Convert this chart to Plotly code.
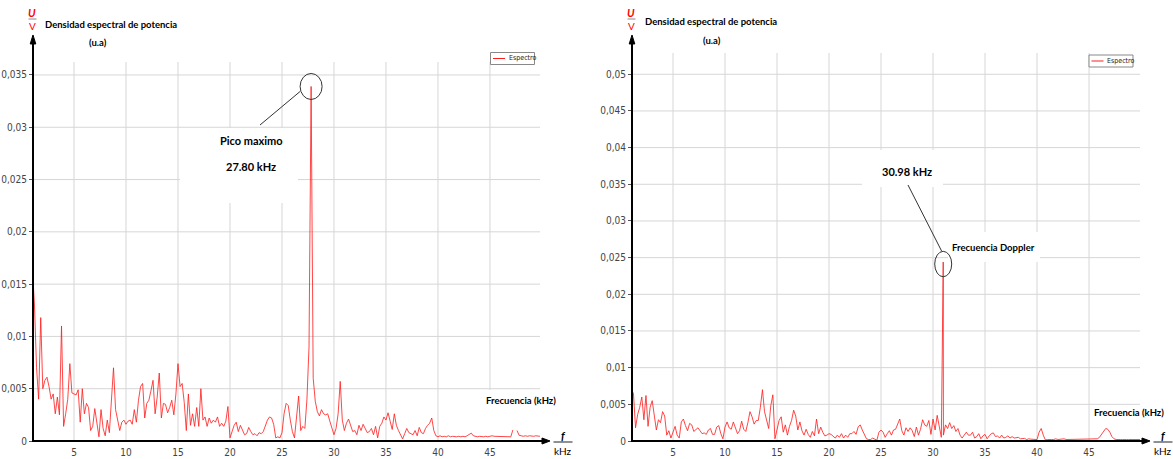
import plotly.graph_objects as go

W, H = 1173, 459

# Power spectral density samples (units of 1e-3 u.a.), one every 0.2 kHz from 1.0 kHz
F_START_KHZ = 1.0
F_STEP_KHZ = 0.2

psd_left = [
    16.5, 13.0, 7.0, 4.0, 11.8, 5.0, 5.8, 6.1, 5.2, 4.0,
    4.5, 2.6, 4.2, 2.5, 11.0, 1.4, 2.6, 4.0, 7.4, 4.6,
    4.5, 4.4, 4.9, 1.8, 5.0, 2.6, 3.6, 3.2, 1.0, 1.4,
    3.1, 1.5, 0.4, 3.0, 1.2, 0.5, 2.0, 0.8, 3.5, 7.0,
    3.0, 2.0, 1.0, 1.8, 2.0, 1.6, 1.9, 2.0, 1.6, 3.0,
    1.8, 3.9, 5.2, 5.5, 2.2, 3.6, 3.9, 4.8, 5.8, 2.6,
    4.2, 6.5, 2.2, 3.6, 3.5, 2.7, 3.2, 3.9, 2.5, 4.5,
    7.4, 5.2, 5.5, 3.7, 1.0, 4.5, 1.5, 2.6, 1.4, 3.2,
    1.4, 5.0, 2.0, 2.3, 1.4, 2.2, 1.7, 2.0, 1.8, 2.3,
    1.4, 1.7, 1.4, 1.9, 3.3, 0.3, 1.0, 1.5, 1.8, 0.9,
    1.5, 1.0, 0.6, 0.7, 1.3, 0.9, 0.6, 0.7, 0.5, 0.8,
    0.7, 0.9, 1.4, 2.0, 2.3, 2.2, 1.6, 0.3, 0.4, 0.3,
    0.8, 2.6, 3.6, 3.4, 2.0, 0.9, 0.3, 2.4, 4.3, 1.0,
    1.4, 1.2, 4.0, 9.0, 33.9, 6.0, 3.8, 2.8, 2.4, 3.0,
    2.6, 2.5, 2.6, 1.9, 1.2, 0.6, 1.2, 2.6, 5.7, 2.0,
    1.0, 1.7, 2.1, 1.5, 0.9, 1.0, 0.6, 1.5, 1.0, 1.6,
    1.2, 0.8, 0.9, 1.2, 0.6, 1.4, 0.3, 1.4, 1.7, 2.3,
    2.0, 2.7, 1.9, 1.1, 2.6, 1.5, 1.0, 0.6, 0.2, 0.7,
    1.2, 0.8, 0.7, 0.6, 1.0, 0.5, 1.3, 0.8, 0.7, 1.2,
    1.5, 1.7, 2.2, 1.0, 0.5, 0.4, 0.5, 0.4, 0.45, 0.4,
    0.5, 0.4, 0.45, 0.4, 0.4, 0.45, 0.4, 0.45, 0.4, 0.5,
    0.6, 0.75, 0.5, 0.45, 0.4, 0.45, 0.4, 0.4, 0.45, 0.4,
    0.45, 0.5, 0.45, 0.45, 0.4, 0.45, 0.4, 0.45, 0.4, 0.45,
    0.4, 1.05, None, 1.0, 0.55, 0.5, 0.45, 0.5, 0.45, 0.5,
    0.45, 0.45, 0.5, 0.45, 0.45, 0.45,
]

psd_right = [
    7.2, 6.4, 1.8, 3.6, 4.6, 6.0, 2.9, 6.2, 2.0, 4.6,
    5.5, 3.5, 1.5, 2.9, 2.5, 4.0, 3.4, 0.8, 1.4, 0.4,
    1.3, 2.0, 0.8, 0.4, 2.6, 3.0, 2.1, 1.4, 2.4, 2.2,
    1.3, 1.6, 1.8, 1.4, 1.0, 1.1, 0.9, 1.5, 1.7, 0.9,
    0.9, 1.9, 2.1, 1.0, 0.3, 1.9, 2.6, 1.8, 1.6, 2.6,
    1.7, 1.0, 1.4, 2.7, 1.6, 1.3, 2.5, 4.0, 3.3, 2.3,
    2.8, 2.8, 4.6, 7.0, 4.0, 2.9, 1.7, 4.8, 6.3, 0.3,
    1.5, 2.8, 3.3, 1.2, 2.2, 0.8, 2.0, 2.8, 4.2, 3.4,
    1.5, 2.6, 1.4, 0.8, 1.6, 0.9, 0.5, 1.3, 0.7, 3.0,
    1.0, 1.9, 1.2, 0.7, 0.8, 1.0, 0.9, 0.6, 0.4, 0.8,
    0.5, 1.0, 0.4, 0.8, 0.5, 1.0, 1.0, 1.3, 0.9, 1.9,
    2.2, 1.5, 0.8, 0.3, 0.2, 0.2, 0.4, 0.3, 0.1, 1.2,
    1.5, 1.2, 0.5, 1.0, 1.4, 0.8, 1.5, 1.6, 2.2, 3.0,
    1.4, 0.8, 1.8, 1.3, 1.8, 1.4, 0.6, 1.9, 0.8, 1.6,
    2.9, 2.2, 2.0, 2.8, 0.9, 3.0, 1.5, 3.5, 2.0, 0.5,
    0.8, 2.2, 1.7, 2.5, 1.7, 2.1, 1.3, 1.7, 0.8, 0.4,
    0.8, 1.2, 0.8, 0.8, 1.2, 0.4, 0.6, 1.0, 0.3, 0.7,
    0.9, 0.3, 0.7, 1.0, 1.1, 0.6, 0.7, 0.4, 0.8, 0.4,
    0.5, 0.7, 0.4, 0.6, 0.4, 0.4, 0.5, 0.3, 0.3, 0.35,
    0.2, 0.3, 0.25, 0.2, 0.15, 0.2, 1.2, 1.7, 0.8, 0.15,
    0.2, 0.25, 0.2, 0.2, 0.3, 0.2, 0.25, 0.2, 0.3, 0.2,
    0.2, 0.25, 0.2, 0.3, 0.2, 0.25, 0.2, 0.2, 0.25, 0.2,
    0.2, 0.25, 0.2, 0.2, 0.3, 0.5, 0.9, 1.4, 1.7, 1.6,
    1.2, 0.6, 0.3, 0.2, 0.25, 0.2, 0.2, 0.25, 0.2, 0.2,
    0.2, 0.25, 0.2, 0.2, 0.2, 0.2,
]

# Main spectral peaks (kHz, 1e-3 u.a.)
peak_left_khz, peak_left_val = 27.80, 33.9
peak_right_khz, peak_right_val = 30.98, 24.4

x_tick_vals = [5, 10, 15, 20, 25, 30, 35, 40, 45]
y_tick_vals_left = [0, 0.005, 0.01, 0.015, 0.02, 0.025, 0.03, 0.035]
y_tick_text_left = ["0", "0,005", "0,01", "0,015", "0,02", "0,025", "0,03", "0,035"]
y_tick_vals_right = [0, 0.005, 0.01, 0.015, 0.02, 0.025, 0.03, 0.035, 0.04, 0.045, 0.05]
y_tick_text_right = ["0", "0,005", "0,01", "0,015", "0,02", "0,025", "0,03", "0,035",
                     "0,04", "0,045", "0,05"]

SCALE = 1e-3
RED = "rgba(255,30,30,0.82)"
GRID = "#d6d6d6"
TICK_FONT = dict(family="Liberation Sans Narrow, DejaVu Sans Condensed, Arial Narrow, sans-serif",
                 size=10, color="#444")
LABEL_FAMILY = "Lato, DejaVu Sans, sans-serif"


def spectrum(values, peak_f, peak_v):
    """Sampled spectrum with the main peak placed at its exact frequency."""
    freqs = [round(F_START_KHZ + F_STEP_KHZ * i, 2) for i in range(len(values))]
    pts = [(f, v) for f, v in zip(freqs, values) if abs(f - peak_f) > 1e-6]
    pts.append((peak_f, peak_v))
    pts.sort(key=lambda p: p[0])
    xs = [p[0] for p in pts]
    ys = [None if p[1] is None else p[1] * SCALE for p in pts]
    return xs, ys


# Panel geometry in pixels: plot-area left/right/bottom/top, and axis ranges
panels = {
    "left": dict(x0=33, x1=540, yb=441, yt=62, xr=[1.058, 49.81], yr=[0, 0.03624],
                 xa="x", ya="y"),
    "right": dict(x0=632, x1=1140, yb=441, yt=53, xr=[1.058, 49.9], yr=[0, 0.0529],
                  xa="x2", ya="y2"),
}


def px(X):
    return X / W


def py(Y):
    return 1 - Y / H


def data_to_px(p, f, v):
    g = panels[p]
    X = g["x0"] + (f - g["xr"][0]) / (g["xr"][1] - g["xr"][0]) * (g["x1"] - g["x0"])
    Y = g["yb"] - (v - g["yr"][0]) / (g["yr"][1] - g["yr"][0]) * (g["yb"] - g["yt"])
    return X, Y


def px_to_data(p, X, Y):
    g = panels[p]
    f = g["xr"][0] + (X - g["x0"]) / (g["x1"] - g["x0"]) * (g["xr"][1] - g["xr"][0])
    v = g["yr"][0] + (g["yb"] - Y) / (g["yb"] - g["yt"]) * (g["yr"][1] - g["yr"][0])
    return f, v


fig = go.Figure()

xl, yl = spectrum(psd_left, peak_left_khz, peak_left_val)
xr, yr = spectrum(psd_right, peak_right_khz, peak_right_val)

fig.add_trace(go.Scatter(x=xl, y=yl, mode="lines", name="Espectro",
                         line=dict(color=RED, width=1), connectgaps=False,
                         xaxis="x", yaxis="y", showlegend=False))
fig.add_trace(go.Scatter(x=xr, y=yr, mode="lines", name="Espectro",
                         line=dict(color=RED, width=1), connectgaps=False,
                         xaxis="x2", yaxis="y2", showlegend=False))


def x_axis(p, anchor):
    g = panels[p]
    return dict(domain=[px(g["x0"]), px(g["x1"])], range=g["xr"], tickvals=x_tick_vals,
                showgrid=False, zeroline=False, showline=False, anchor=anchor,
                ticks="", tickfont=TICK_FONT, ticklabelstandoff=4,
                automargin=False, fixedrange=True)


def y_axis(p, vals, text, anchor):
    g = panels[p]
    return dict(domain=[py(g["yb"]), py(g["yt"])], range=g["yr"], tickvals=vals, ticktext=text,
                showgrid=False, zeroline=False, showline=False,
                ticks="outside", ticklen=3, tickcolor="#555", tickfont=TICK_FONT,
                anchor=anchor, automargin=False, fixedrange=True)


shapes = []
annotations = []


def gridlines(p, yvals):
    g = panels[p]
    for xv in x_tick_vals:
        shapes.append(dict(type="line", xref=g["xa"], yref=g["ya"] + " domain", layer="below",
                           x0=xv, x1=xv, y0=0, y1=1, line=dict(color=GRID, width=1)))
    for yv in yvals[1:]:
        shapes.append(dict(type="line", xref=g["xa"] + " domain", yref=g["ya"], layer="below",
                           x0=0, x1=1, y0=yv, y1=yv, line=dict(color=GRID, width=1)))


def label_backdrop(p, X0, Y0, X1, Y1):
    # white box behind a label: hides the grid, stays under the spectrum
    g = panels[p]
    fa, va = px_to_data(p, X0, Y1)
    fb, vb = px_to_data(p, X1, Y0)
    shapes.append(dict(type="rect", xref=g["xa"], yref=g["ya"], layer="below",
                       x0=fa, x1=fb, y0=va, y1=vb,
                       fillcolor="white", line=dict(width=0)))


def line(X0, Y0, X1, Y1, color="black", width=1):
    shapes.append(dict(type="line", xref="paper", yref="paper", x0=px(X0), y0=py(Y0),
                       x1=px(X1), y1=py(Y1), line=dict(color=color, width=width)))


def tri(pts, color="black"):
    path = "M " + " L ".join(f"{px(X):.5f},{py(Y):.5f}" for X, Y in pts) + " Z"
    shapes.append(dict(type="path", xref="paper", yref="paper", path=path,
                       fillcolor=color, line=dict(color=color, width=1)))


def text(X, Y, s, size=10, color="black", bold=True, italic=False, xanchor="center"):
    t = s
    if bold:
        t = f"<b>{t}</b>"
    if italic:
        t = f"<i>{t}</i>"
    annotations.append(dict(x=px(X), y=py(Y), xref="paper", yref="paper", text=t,
                            showarrow=False, xanchor=xanchor, yanchor="middle",
                            font=dict(family=LABEL_FAMILY, size=size, color=color)))


def ellipse(Xc, Yc, rx, ry):
    shapes.append(dict(type="circle", xref="paper", yref="paper",
                       x0=px(Xc - rx), x1=px(Xc + rx), y0=py(Yc + ry), y1=py(Yc - ry),
                       line=dict(color="#333", width=1)))


def panel_frame(p, legend_box):
    g = panels[p]
    X0, Yb = g["x0"], g["yb"]
    # axis arrows
    line(X0, Yb + 1, X0, 42, width=2)
    tri([(X0, 35), (X0 - 2.8, 44), (X0 + 2.8, 44)])
    line(X0, Yb, g["x1"] + 4, Yb, width=2)
    tip = g["x1"] + 10
    tri([(tip, Yb), (tip - 8, Yb - 3), (tip - 8, Yb + 3)])
    # axis units
    fx = tip + 13
    text(fx, 435, "f", size=11, italic=True)
    line(fx - 9.5, 442, fx + 9.5, 442, color="#222", width=1)
    text(fx, 451, "kHz", size=10, bold=False)
    # y label
    text(X0 - 1, 12, "U", size=11, color="red", italic=True)
    line(X0 - 4.5, 19, X0 + 3.5, 19, color="#888", width=1)
    text(X0 - 1, 26, "V", size=10, color="red", bold=False)
    # legend
    lx0, ly0, lx1, ly1 = legend_box
    shapes.append(dict(type="rect", xref="paper", yref="paper", x0=px(lx0), x1=px(lx1),
                       y0=py(ly1), y1=py(ly0), fillcolor="white",
                       line=dict(color="#888", width=1)))
    ym = (ly0 + ly1) / 2
    line(lx0 + 2.5, ym, lx0 + 14.5, ym, color="rgb(255,30,30)", width=1)
    annotations.append(dict(x=px(lx0 + 16), y=py(ym), xref="paper", yref="paper",
                            text="Espectro", showarrow=False, xanchor="left", yanchor="middle",
                            font=dict(family="Liberation Sans Narrow, DejaVu Sans Condensed, sans-serif",
                                      size=7, color="#222")))


# ---- left panel ----
gridlines("left", y_tick_vals_left)
label_backdrop("left", 180, 128, 298, 203)
label_backdrop("left", 470, 390, 540, 440)
panel_frame("left", (490.5, 52.5, 534.5, 64.5))
text(43, 24, "Densidad espectral de potencia", size=9.5, xanchor="left")
text(98, 42, "(u.a)", size=9.5)
text(521, 400, "Frecuencia (kHz)", size=9.5)
cx, cy = data_to_px("left", peak_left_khz, peak_left_val * SCALE)
ellipse(cx, cy, 11, 13)
line(cx - 11, cy + 5, 260, 125, color="#333", width=1)
text(251, 140, "Pico maximo", size=11)
text(251, 166, f"{peak_left_khz:.2f} kHz", size=11)

# ---- right panel ----
gridlines("right", y_tick_vals_right)
label_backdrop("right", 862, 150, 943, 187)
label_backdrop("right", 948, 232, 1040, 262)
label_backdrop("right", 1093, 405, 1140, 438)
panel_frame("right", (1089, 55, 1133, 67))
text(643, 22, "Densidad espectral de potencia", size=9.5, xanchor="left")
text(712, 40, "(u.a)", size=9.5)
text(1129, 412, "Frecuencia (kHz)", size=9.5)
cx, cy = data_to_px("right", peak_right_khz, peak_right_val * SCALE)
ellipse(cx, cy + 2, 8.5, 12.7)
line(908, 185, cx - 1.6, cy - 11, color="#333", width=1)
text(907, 171, f"{peak_right_khz:.2f} kHz", size=11)
text(993, 247, "Frecuencia Doppler", size=9.5)

fig.update_layout(
    width=W, height=H,
    margin=dict(l=0, r=0, t=0, b=0, autoexpand=False),
    paper_bgcolor="white", plot_bgcolor="rgba(0,0,0,0)",
    separators=",.",
    showlegend=False,
    xaxis=x_axis("left", "y"),
    yaxis=y_axis("left", y_tick_vals_left, y_tick_text_left, "x"),
    xaxis2=x_axis("right", "y2"),
    yaxis2=y_axis("right", y_tick_vals_right, y_tick_text_right, "x2"),
    shapes=shapes,
    annotations=annotations,
)

fig.write_html("out.html")
